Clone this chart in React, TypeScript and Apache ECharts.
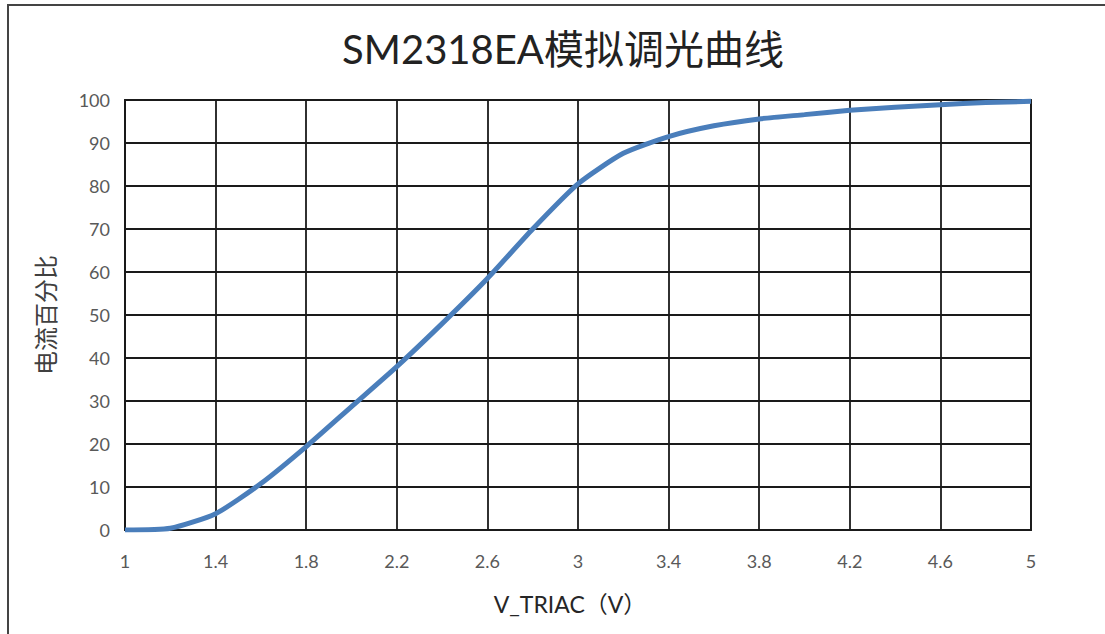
import React, { useEffect, useRef } from "react";
import * as echarts from "echarts";

const categories = ["1", "1.2", "1.4", "1.6", "1.8", "2", "2.2", "2.4", "2.6", "2.8", "3", "3.2", "3.4", "3.6", "3.8", "4", "4.2", "4.4", "4.6", "4.8", "5"];
const currentPct = [0, 0.4, 3.8, 10.8, 19.4, 28.7, 38, 48, 58.5, 70, 80.5, 87.6, 91.5, 94, 95.6, 96.6, 97.6, 98.3, 98.9, 99.4, 99.7];
const yTicks = { min: 0, max: 100, interval: 10 };

const titleText = "SM2318EA模拟调光曲线";
const yName = "电流百分比";
const xName = "V_TRIAC（V）";

const FONT = "Lato, 'Noto Sans CJK SC', sans-serif";

export default function App() {
  const ref = useRef<HTMLDivElement>(null);
  useEffect(() => {
    if (!ref.current) return;
    const chart = echarts.init(ref.current, null, { renderer: "svg" });
    chart.setOption({
      animation: false,
      backgroundColor: "#ffffff",
      title: {
        text: titleText,
        left: 558,
        textAlign: "center",
        top: 24,
        textStyle: { fontFamily: FONT, fontSize: 40, fontWeight: "normal", color: "#222" },
      },
      graphic: [
        {
          type: "rect",
          shape: { x: 8, y: 5, width: 1110, height: 640 },
          style: { fill: "none", stroke: "#444", lineWidth: 2 },
          silent: true,
        },
      ],
      grid: {
        left: 125,
        top: 100,
        right: 74,
        bottom: 104,
        show: true,
        borderColor: "#1a1a1a",
        borderWidth: 1.8,
      },
      xAxis: {
        type: "category",
        data: categories,
        boundaryGap: false,
        name: xName,
        nameLocation: "middle",
        nameGap: 62,
        nameTextStyle: { fontFamily: FONT, fontSize: 23, color: "#262626", padding: [0, 16, 0, 0] },
        axisLine: { show: true, lineStyle: { color: "#1a1a1a", width: 1.8 } },
        axisTick: { show: false },
        axisLabel: { interval: 1, margin: 22, fontFamily: FONT, fontSize: 18, color: "#595959" },
        splitLine: { show: true, interval: 1, lineStyle: { color: "#1a1a1a", width: 1.8 } },
      },
      yAxis: {
        type: "value",
        min: yTicks.min,
        max: yTicks.max,
        interval: yTicks.interval,
        name: yName,
        nameLocation: "middle",
        nameRotate: 90,
        nameGap: 68,
        nameTextStyle: { fontFamily: FONT, fontSize: 24, color: "#404040" },
        axisLine: { show: true, lineStyle: { color: "#1a1a1a", width: 1.8 } },
        axisTick: { show: false },
        axisLabel: { margin: 15, fontFamily: FONT, fontSize: 18, color: "#595959" },
        splitLine: { show: true, lineStyle: { color: "#1a1a1a", width: 1.8 } },
      },
      series: [
        {
          type: "line",
          data: currentPct,
          smooth: 0.2,
          showSymbol: false,
          lineStyle: { color: "#4a7ebb", width: 5 },
          itemStyle: { color: "#4a7ebb" },
        },
      ],
    });
    return () => chart.dispose();
  }, []);
  return (
    <div
      ref={ref}
      style={{ position: "absolute", left: 0, top: 0, width: 1105, height: 634 }}
    />
  );
}
